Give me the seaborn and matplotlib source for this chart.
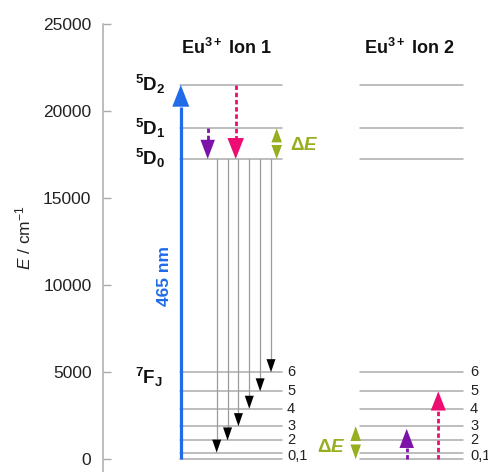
import numpy as np
import pandas as pd
import matplotlib
matplotlib.use("Agg")
import matplotlib.pyplot as plt
import seaborn as sns

# Eu3+ energy levels (cm^-1)
d_levels = [17250, 19000, 21500]                  # 5D0, 5D1, 5D2
d_names = ["0", "1", "2"]
f_levels = [0, 380, 1080, 1900, 2900, 3900, 5000]  # 7F0 ... 7F6
f_label_text = ["0,1", "2", "3", "4", "5", "6"]
emission_targets = [1, 2, 3, 4, 5, 6]             # 5D0 -> 7FJ
excitation_label = "465 nm"
y_ticks = [0, 5000, 10000, 15000, 20000, 25000]
ion_titles = ["Ion 1", "Ion 2"]

# colours
LEVEL_C = "#ababab"
BLUE = "#1F6BE8"
PINK = "#EC0C72"
PURPLE = "#7D12A8"
GREEN = "#97AE1E"

sns.set_theme(style="white")
plt.rcParams["font.family"] = ["Liberation Sans", "DejaVu Sans"]
plt.rcParams["mathtext.fontset"] = "custom"
plt.rcParams["mathtext.rm"] = "Liberation Sans"
plt.rcParams["mathtext.it"] = "Liberation Sans:italic"
plt.rcParams["mathtext.bf"] = "Liberation Sans:bold"
plt.rcParams["mathtext.bfit"] = "Liberation Sans:bold:italic"

W, H = 489, 472
fig = plt.figure(figsize=(W / 100, H / 100), dpi=100)
ax = fig.add_axes([103.3 / W, 0, (W - 103.3) / W, 448 / H])
ax.set_xlim(0, W - 103.3)
ax.set_ylim(-730, 25000)

# horizontal extent of each ion's level ladder
ION1 = (76.7, 178.7)
ION2 = (256.7, 359.7)

# level lines drawn through seaborn as individual segments
rows = []
seg = 0
for x0, x1 in (ION1, ION2):
    for E in d_levels + f_levels:
        rows.append(dict(x=x0, E=E, seg=seg))
        rows.append(dict(x=x1, E=E, seg=seg))
        seg += 1
levels = pd.DataFrame(rows)
sns.lineplot(data=levels, x="x", y="E", units="seg", estimator=None,
             color=LEVEL_C, lw=1.1, ax=ax, legend=False, sort=False)


def head(x, tip, direction, w, hl, color):
    base = tip - direction * hl
    ax.arrow(x, base, 0, direction * hl, width=0, head_width=w,
             head_length=hl, length_includes_head=True, color=color, lw=0,
             zorder=4)


def dashed(x, e0, e1, color):
    ax.plot([x, x], [e0, e1], color=color, lw=2.0, ls=(0, (1.6, 1.0)),
            solid_capstyle="butt", dash_capstyle="butt", zorder=3)


D0, D1, D2 = d_levels

# excitation 7F0 -> 5D2
bx = 77.5
ax.plot([bx, bx], [f_levels[0], D2 - 1250], color=BLUE, lw=2.3,
        solid_capstyle="butt", zorder=3)
head(bx, D2, 1, 17, 1250, BLUE)
ax.text(bx - 16, 10500, excitation_label, color=BLUE, rotation=90,
        ha="center", va="center", fontsize=12.5, fontweight="bold")

# non-radiative relaxation in ion 1
dashed(104.4, D1, D0 + 1100, PURPLE)
head(104.4, D0, -1, 14.5, 1100, PURPLE)
dashed(132.4, D2, D0 + 1200, PINK)
head(132.4, D0, -1, 16.5, 1200, PINK)

# emission 5D0 -> 7FJ
ex = np.linspace(113.4, 167.7, len(emission_targets))
for x, j in zip(ex, emission_targets):
    tgt = f_levels[j]
    ax.plot([x, x], [D0, tgt + 750], color="#9c9c9c", lw=0.9, zorder=2)
    head(x, tgt, -1, 9, 750, "black")

# energy gap 5D1 - 5D0
gx = 173.4
head(gx, D1, 1, 10.5, 800, GREEN)
head(gx, D0, -1, 10.5, 800, GREEN)
ax.text(186.5, (D0 + D1) / 2 - 100, r"$\mathbf{\Delta}\mathbfit{E}$",
        color=GREEN, ha="left", va="center", fontsize=13.5)

# energy transfer into ion 2
dE = D1 - D0
dashed(303.4, f_levels[0], f_levels[0] + dE - 1100, PURPLE)
head(303.4, f_levels[0] + dE, 1, 14.5, 1100, PURPLE)
dashed(335.0, f_levels[0], f_levels[5] - 1100, PINK)
head(335.0, f_levels[5], 1, 15, 1100, PINK)

gx2 = 252.4
head(gx2, f_levels[3], 1, 10.5, 850, GREEN)
head(gx2, f_levels[0], -1, 10.5, 850, GREEN)
ax.text(242.0, (f_levels[0] + f_levels[3]) / 2 - 250,
        r"$\mathbf{\Delta}\mathbfit{E}$", color=GREEN,
        ha="right", va="center", fontsize=13.5)

# level names
for E, n in zip(d_levels, d_names):
    ax.text(62.5, E, r"$\mathbf{{}^{5}D_{" + n + r"}}$", ha="right",
            va="center", fontsize=13.5, color="#111111")
ax.text(59.5, f_levels[6] - 300, r"$\mathbf{{}^{7}F_{J}}$", ha="right",
        va="center", fontsize=13.5, color="#111111")

# J labels of the 7F manifold
f_label_pos = [(f_levels[0] + f_levels[1]) / 2] + f_levels[2:]
for xl in (183.7, 366.7):
    for E, t in zip(f_label_pos, f_label_text):
        ax.text(xl, E, t, ha="left", va="center", fontsize=10.5,
                color="#222222")

# titles
for (x0, x1), t, dx in zip((ION1, ION2), ion_titles, (-5, -2)):
    ax.text((x0 + x1) / 2 + dx, 23650, r"$\mathbf{Eu^{3+}}$ " + t,
            ha="center", va="center", fontsize=13, fontweight="bold",
            color="#111111")

# axis styling
for s in ("top", "right", "bottom"):
    ax.spines[s].set_visible(False)
ax.spines["left"].set_color(LEVEL_C)
ax.spines["left"].set_linewidth(1.1)
ax.set_xticks([])
ax.set_yticks(y_ticks)
ax.set_yticklabels([str(v) for v in y_ticks])
ax.tick_params(axis="y", direction="in", length=6, width=1.0,
               color=LEVEL_C, pad=8.5, labelsize=12.5, labelcolor="#222222",
               left=True)
ax.set_xlabel("")
ax.set_ylabel(r"$\mathit{E}$ / cm$^{-1}$", fontsize=12.5, color="#222222",
              va="center")
ax.yaxis.set_label_coords(-79.5 / (W - 103.3), (H - 238) / 448)
ax.grid(False)

fig.savefig("out.png", dpi=100)
